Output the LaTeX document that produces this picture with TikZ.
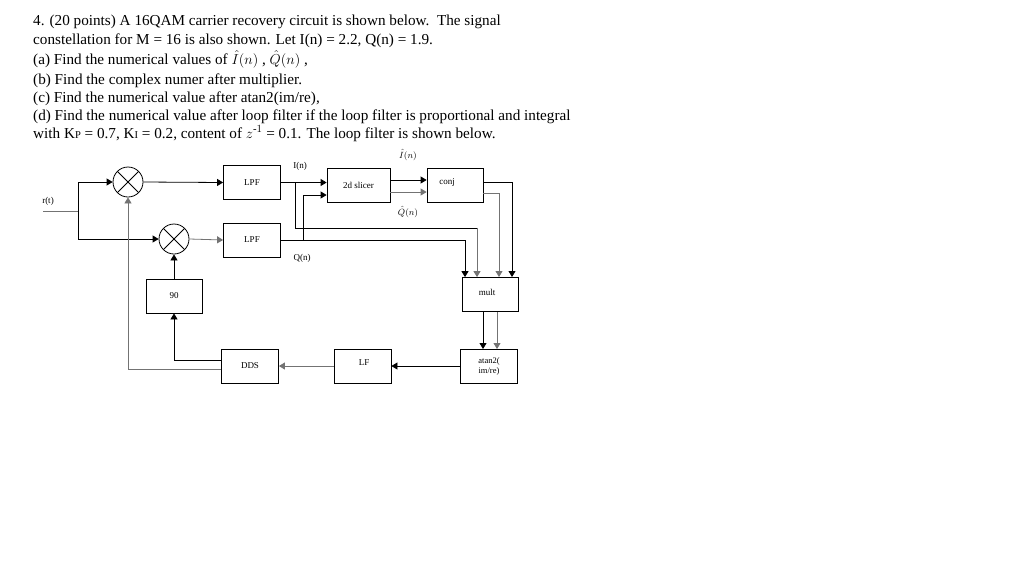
\documentclass[tikz,border=0pt]{standalone}
\usepackage{amsmath}
\usepackage{fontspec}
\setmainfont{Liberation Serif}
\usetikzlibrary{arrows.meta}
\tikzstyle{blk} = [draw, line width=0.8pt, minimum width=57pt, minimum height=34pt, inner sep=0pt, font=\fontsize{9}{10}\selectfont]
\tikzstyle{mixer} = [draw, circle, line width=0.8pt, minimum size=30pt, inner sep=0pt,
  path picture={\draw[line width=0.8pt] (path picture bounding box.south west) -- (path picture bounding box.north east)
    (path picture bounding box.north west) -- (path picture bounding box.south east);}]
\tikzstyle{sig} = [line width=0.8pt]
\tikzstyle{sigg} = [line width=0.8pt, black!55]
\tikzstyle{lbl} = [font=\fontsize{9}{10}\selectfont, inner sep=0pt]
\tikzstyle{txt} = [anchor=base west, inner sep=0pt, font=\fontsize{15.2}{17}\selectfont]

\begin{document}
\begin{tikzpicture}[x=1pt,y=-1pt,>={Triangle[length=6pt,width=7pt]}]
  \useasboundingbox (0,0) rectangle (1024,576);
  % question text
  \node[txt] (l1) at (33,25) {4. (20 points) A 16QAM carrier recovery circuit is shown below.\ \ The signal};
  \node[txt] (l2) at (33,44) {constellation for M = 16 is also shown. Let I(n) = 2.2, Q(n) = 1.9.};
  \node[txt] (l3) at (33,64) {(a) Find the numerical values of $\hat{I}(n)$ , $\hat{Q}(n)$ ,};
  \node[txt] (l4) at (33,84) {(b) Find the complex numer after multiplier.};
  \node[txt] (l5) at (33,102) {(c) Find the numerical value after atan2(im/re),};
  \node[txt] (l6) at (33,120) {(d) Find the numerical value after loop filter if the loop filter is proportional and integral};
  \node[txt] (l7) at (33,138) {with K{\fontsize{10.5}{11}\selectfont P} = 0.7, K{\fontsize{10.5}{11}\selectfont I} = 0.2, content of $z^{\text{-}1}$ = 0.1. The loop filter is shown below.};

  % blocks
  \node[mixer] (mixA) at (128,182) {};
  \node[mixer] (mixB) at (174,239) {};
  \node[blk] (lpfA) at (252,182.5) {LPF};
  \node[blk] (lpfB) at (252,240) {LPF};
  \node[blk, minimum width=63pt] (slicer) at (358.5,185) {2d slicer};
  \node[blk, minimum width=56pt] (conj) at (455,185) {};
  \node[lbl] (conjtxt) at (447,182) {conj};
  \node[blk, minimum width=56pt] (ninety) at (174,296) {90};
  \node[blk, minimum width=56pt] (mult) at (490,294.5) {};
  \node[lbl] (multtxt) at (487,292) {mult};
  \node[blk] (dds) at (250,366) {DDS};
  \node[blk] (lf) at (362.5,366) {};
  \node[lbl] (lftxt) at (364,363) {LF};
  \node[blk, align=center, font=\fontsize{8.5}{10}\selectfont] (atan) at (489,366) {atan2(\\im/re)};

  % labels
  \node[lbl] (rt) at (48,201) {r(t)};
  \node[lbl] (in) at (300,166) {I(n)};
  \node[lbl] (qn) at (302,258) {Q(n)};
  \node[lbl] (ihat) at (408,155) {$\hat{I}(n)$};
  \node[lbl] (qhat) at (408,212) {$\hat{Q}(n)$};

  % input split
  \coordinate (rin) at (43,211);
  \coordinate (rsplit) at (78,211);
  \draw[sigg] (rin) -- (rsplit);
  \draw[sig,->] (rsplit) |- (mixA.west);
  \draw[sig,->] (rsplit) |- (mixB.west);
  \draw[sig,->] (mixA.east) -- (lpfA.west);
  \draw[sigg,->] (mixB.east) -- (lpfB.west);

  % I(n) and Q(n)
  \coordinate (ibr) at (295,182.5);
  \coordinate (qbr) at (303,240);
  \draw[sig,->] (lpfA.east) -- (lpfA.east -| slicer.west);
  \draw[sig] (ibr) |- (477,228) coordinate (iturn);
  \draw[sigg,->] (iturn) -- (iturn |- mult.north);
  \draw[sig] (lpfB.east) -- (465,240) coordinate (qturn);
  \draw[sig,->] (qturn) -- (qturn |- mult.north);
  \draw[sig,->] (qbr) |- ([yshift=-10pt]slicer.west);

  % slicer to conj
  \draw[sig,->] ([yshift=5pt]slicer.east) -- ([yshift=5pt]conj.west);
  \draw[sigg,->] ([yshift=-7pt]slicer.east) -- ([yshift=-7pt]conj.west);

  % conj to mult
  \draw[sig,->] ([yshift=3pt]conj.east) -| (512,277);
  \draw[sigg,->] ([yshift=-8pt]conj.east) -| (499,277);

  % mult to atan2
  \draw[sig,->] (483,312) -- (483,349);
  \draw[sigg,->] (497,312) -- (497,349);

  % loop back
  \draw[sig,->] (atan.west) -- (lf.east);
  \draw[sigg,->] (lf.west) -- (dds.east);
  \draw[sig,->] ([yshift=6pt]dds.west) -| (ninety.south);
  \draw[sigg,->] ([yshift=-3pt]dds.west) -| (mixA.south);
  \draw[sig,->] (ninety.north) -- (mixB.south);
\end{tikzpicture}
\end{document}
